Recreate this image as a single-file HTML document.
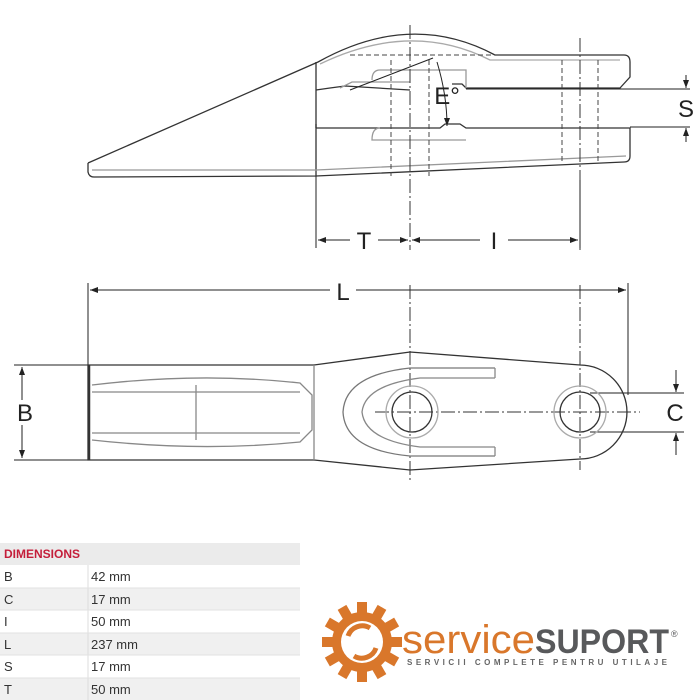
<!DOCTYPE html>
<html><head><meta charset="utf-8"><style>
html,body{margin:0;padding:0;background:#fff;width:700px;height:700px;overflow:hidden}
svg{position:absolute;left:0;top:0}
</style></head><body>
<svg width="700" height="700" viewBox="0 0 700 700" xmlns="http://www.w3.org/2000/svg" font-family="Liberation Sans, sans-serif">
<defs>
<marker id="a" markerWidth="8" markerHeight="6" refX="8" refY="3" orient="auto"><path d="M0,0 L8,3 L0,6 z" fill="#222"/></marker>
</defs>
<g fill="none" stroke="#333" stroke-width="1.3">
<!-- top view outline -->
<path d="M88,163 L318,62 Q411,10 495,55 L624,55 Q630,55 630,62 L630,77 L620,88 L466,88 L462,84 L452,84"/>
<path d="M88,163 L88,172 Q89,177 94,177 L316,176 L624,162 Q630,162 630,156 L630,128 L466,128 L460,124 L445,124 L440,128 L316,128"/>
<path d="M316,62 L316,176"/>
<path d="M316,128 L316,124 M316,90 L330,88 L345,86 L410,90"/>
<path stroke="#aaa" d="M320,64 Q411,20 490,60 L620,60"/>
<path stroke="#999" d="M340,88 L352,82 L410,82 M466,88 L466,70 L380,70 Q372,70 372,80 M380,128 Q372,128 372,140 L466,140"/>
<path stroke="#999" d="M92,170 L316,170 L626,156"/>
</g>
<g fill="none" stroke="#444" stroke-width="1" stroke-dasharray="5,3">
<path d="M350,55 L495,55 M391,60 L391,176 M429,60 L429,176 M562,60 L562,164 M598,60 L598,164"/>
</g>
<g fill="none" stroke="#333" stroke-width="1" stroke-dasharray="14,3,2,3">
<path d="M410,25 L410,250 M580,38 L580,250"/>
<path d="M410,285 L410,480 M580,285 L580,470 M375,412 L640,412"/>
</g>
<g fill="none" stroke="#222" stroke-width="1">
<path d="M350,90 L433,58"/>
<path d="M437,62 Q447,95 447,126" marker-end="url(#a)"/>
<path d="M316,176 L316,248 M580,180 L580,248"/>
<path d="M350,240 L318,240" marker-end="url(#a)"/>
<path d="M378,240 L408,240" marker-end="url(#a)"/>
<path d="M480,240 L412,240" marker-end="url(#a)"/>
<path d="M508,240 L578,240" marker-end="url(#a)"/>
<path d="M466,89 L690,89 M630,127 L690,127"/>
<path d="M686,75 L686,88" marker-end="url(#a)"/>
<path d="M686,142 L686,128" marker-end="url(#a)"/>
<!-- L dim -->
<path d="M88,283 L88,365 M628,283 L628,395"/>
<path d="M330,290 L90,290" marker-end="url(#a)"/>
<path d="M356,290 L626,290" marker-end="url(#a)"/>
<!-- B dim -->
<path d="M14,365 L88,365 M14,460 L88,460"/>
<path d="M22,400 L22,367" marker-end="url(#a)"/>
<path d="M22,425 L22,458" marker-end="url(#a)"/>
<!-- C dim -->
<path d="M590,393 L684,393 M590,432 L684,432"/>
<path d="M676,370 L676,392" marker-end="url(#a)"/>
<path d="M676,455 L676,433" marker-end="url(#a)"/>
</g>
<!-- bottom view -->
<g fill="none" stroke="#333" stroke-width="1.3">
<path d="M88,365 L314,365 L410,352 L580,365 A47,47 0 0 1 580,459 L410,470 L314,460 L88,460 Z"/>
<path d="M89,365 L89,460" stroke-width="2.5"/>
<path stroke="#888" d="M314,365 L314,460 M92,385 Q200,372 300,383 L312,395 L312,430 L300,442 Q200,452 92,440"/>
<path stroke="#888" d="M92,392 L300,392 M92,433 L300,433 M196,385 L196,440"/>
<path stroke="#777" d="M495,368 L410,368 Q345,375 343,412 Q345,450 410,456 L495,456"/>
<path stroke="#888" d="M495,378 L420,378 Q365,385 362,412 Q365,440 420,447 L495,447 M495,368 L495,378 M495,447 L495,456"/>
<circle cx="412" cy="412" r="20"/><circle cx="580" cy="412" r="20"/>
<circle cx="412" cy="412" r="26" stroke="#aaa"/><circle cx="580" cy="412" r="26" stroke="#aaa"/>
</g>
<g font-size="24" fill="#222" text-anchor="middle">
<text x="364" y="249">T</text><text x="494" y="249">I</text>
<text x="447" y="104">E°</text><text x="686" y="117">S</text>
<text x="343" y="300">L</text><text x="25" y="421">B</text><text x="675" y="421">C</text>
</g>
<!-- table -->
<g font-size="13" fill="#333">
<rect x="0" y="543" width="300" height="22" fill="#ebebeb"/>
<rect x="0" y="588" width="300" height="22" fill="#f0f0f0"/>
<rect x="0" y="633" width="300" height="22" fill="#f0f0f0"/>
<rect x="0" y="678" width="300" height="22" fill="#f0f0f0"/>
<line x1="88" y1="565" x2="88" y2="700" stroke="#ddd"/>
<g stroke="#e2e2e2"><line x1="0" y1="588" x2="300" y2="588"/><line x1="0" y1="610" x2="300" y2="610"/><line x1="0" y1="633" x2="300" y2="633"/><line x1="0" y1="655" x2="300" y2="655"/><line x1="0" y1="678" x2="300" y2="678"/></g>
<text x="4" y="558" fill="#c41e3a" font-weight="bold" font-size="12">DIMENSIONS</text>
<text x="4" y="581">B</text><text x="91" y="581">42 mm</text>
<text x="4" y="604">C</text><text x="91" y="604">17 mm</text>
<text x="4" y="626">I</text><text x="91" y="626">50 mm</text>
<text x="4" y="649">L</text><text x="91" y="649">237 mm</text>
<text x="4" y="671">S</text><text x="91" y="671">17 mm</text>
<text x="4" y="694">T</text><text x="91" y="694">50 mm</text>
</g>
<!-- logo -->
<g transform="translate(362,642)" fill="#d9772b">
<circle r="30"/>
<g>
<rect x="-5" y="-40" width="10" height="12"/><rect x="-5" y="-40" width="10" height="12" transform="rotate(30)"/><rect x="-5" y="-40" width="10" height="12" transform="rotate(60)"/><rect x="-5" y="-40" width="10" height="12" transform="rotate(90)"/><rect x="-5" y="-40" width="10" height="12" transform="rotate(120)"/><rect x="-5" y="-40" width="10" height="12" transform="rotate(150)"/><rect x="-5" y="-40" width="10" height="12" transform="rotate(180)"/><rect x="-5" y="-40" width="10" height="12" transform="rotate(210)"/><rect x="-5" y="-40" width="10" height="12" transform="rotate(240)"/><rect x="-5" y="-40" width="10" height="12" transform="rotate(270)"/><rect x="-5" y="-40" width="10" height="12" transform="rotate(300)"/><rect x="-5" y="-40" width="10" height="12" transform="rotate(330)"/>
</g>
<circle r="21" fill="#fff"/>
<path d="M-14,-6 A15,15 0 0 1 8,-14" stroke="#d9772b" stroke-width="5" fill="none"/>
<path d="M14,6 A15,15 0 0 1 -8,14" stroke="#d9772b" stroke-width="5" fill="none"/>
</g>
<text x="402" y="653" font-size="40" fill="#d9772b" textLength="133" lengthAdjust="spacingAndGlyphs">service</text>
<text x="535" y="653" font-size="34" font-weight="bold" fill="#58595b" textLength="134" lengthAdjust="spacingAndGlyphs">SUPORT</text>
<text x="671" y="637" font-size="9" fill="#58595b">®</text>
<text x="407" y="665" font-size="8" font-weight="bold" fill="#666" textLength="260" lengthAdjust="spacing">SERVICII COMPLETE PENTRU UTILAJE</text>
</svg>
</body></html>
